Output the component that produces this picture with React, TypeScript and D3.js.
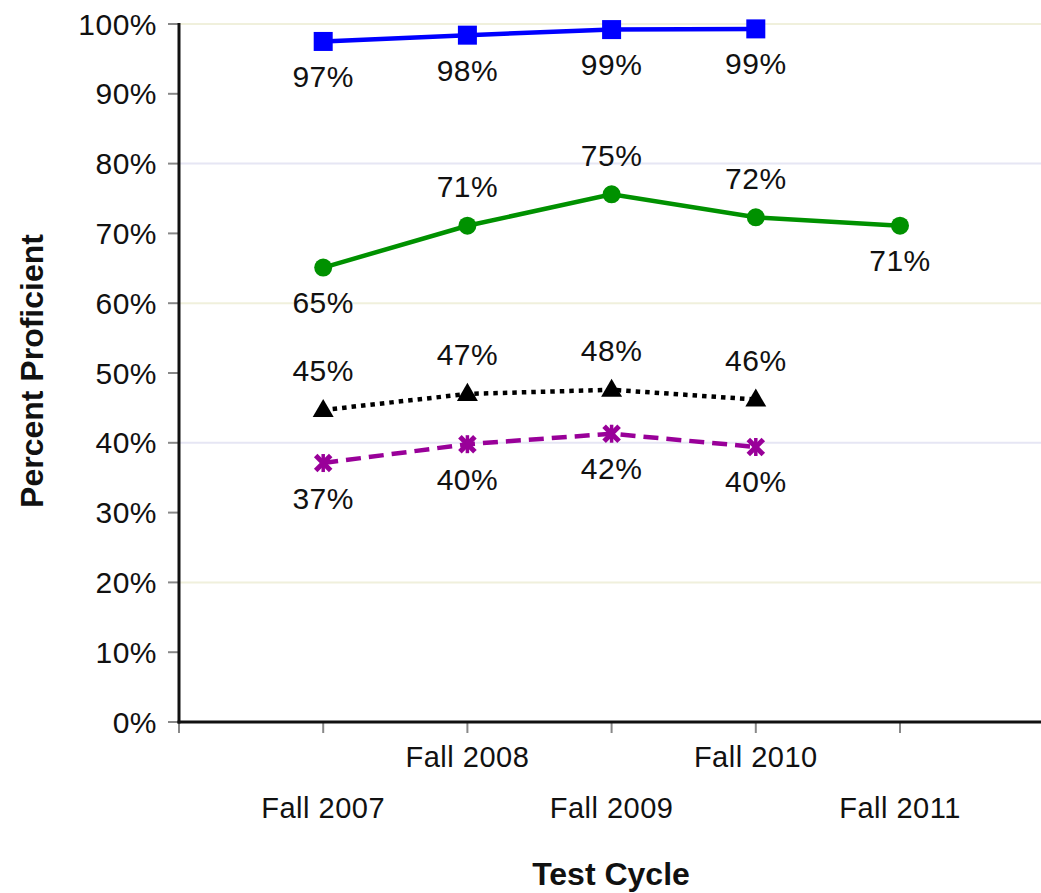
import React from "react";
import * as d3 from "d3";

const categories = ["Fall 2007", "Fall 2008", "Fall 2009", "Fall 2010", "Fall 2011"];
const yTicks = [0, 10, 20, 30, 40, 50, 60, 70, 80, 90, 100];

const blueValues = [97.5, 98.4, 99.2, 99.3, null];
const blueLabels = ["97%", "98%", "99%", "99%", ""];
const greenValues = [65.1, 71.1, 75.6, 72.3, 71.1];
const greenLabels = ["65%", "71%", "75%", "72%", "71%"];
const blackValues = [44.7, 47.0, 47.6, 46.2, null];
const blackLabels = ["45%", "47%", "48%", "46%", ""];
const purpleValues = [37.1, 39.8, 41.3, 39.4, null];
const purpleLabels = ["37%", "40%", "42%", "40%", ""];

const W = 1041;
const H = 893;
const left = 179;
const top = 24;
const bottom = 722;

const x = d3.scaleLinear().domain([0, 6]).range([left, left + 6 * 144.2]);
const y = d3.scaleLinear().domain([0, 100]).range([bottom, top]);

type Series = {
  values: (number | null)[];
  labels: string[];
  pos: ("above" | "below")[];
  color: string;
  dash?: string;
  width: number;
  marker: "square" | "circle" | "triangle" | "x";
};

const series: Series[] = [
  { values: blueValues, labels: blueLabels, pos: ["below", "below", "below", "below", "below"], color: "#0000ff", width: 4.5, marker: "square" },
  { values: greenValues, labels: greenLabels, pos: ["below", "above", "above", "above", "below"], color: "#009100", width: 4.5, marker: "circle" },
  { values: blackValues, labels: blackLabels, pos: ["above", "above", "above", "above", "above"], color: "#000000", dash: "4.5 5", width: 4.5, marker: "triangle" },
  { values: purpleValues, labels: purpleLabels, pos: ["below", "below", "below", "below", "below"], color: "#990099", dash: "15 8", width: 4.5, marker: "x" },
];

const font = "'Liberation Sans', Arial, sans-serif";

function Marker({ kind, cx, cy, color }: { kind: string; cx: number; cy: number; color: string }) {
  if (kind === "square") return <rect x={cx - 9.5} y={cy - 9.5} width={19} height={19} fill={color} />;
  if (kind === "circle") return <circle cx={cx} cy={cy} r={9} fill={color} />;
  if (kind === "triangle") {
    const p = d3.symbol().type(d3.symbolTriangle).size(190)();
    return <path d={p || ""} transform={`translate(${cx},${cy + 1})`} fill={color} />;
  }
  return (
    <g stroke={color} strokeWidth={5} strokeLinecap="butt">
      <line x1={cx - 7.5} y1={cy - 7.5} x2={cx + 7.5} y2={cy + 7.5} />
      <line x1={cx - 7.5} y1={cy + 7.5} x2={cx + 7.5} y2={cy - 7.5} />
      <line x1={cx} y1={cy - 9} x2={cx} y2={cy + 9} strokeWidth={3.5} />
    </g>
  );
}

export default function App() {
  const line = d3
    .line<number | null>()
    .defined((d) => d !== null)
    .x((_, i) => x(i + 1))
    .y((d) => y(d as number));

  const gridColor = (v: number) => (v % 40 === 0 ? "#e6e6f4" : "#f0f0dc");

  return (
    <svg width={W} height={H} style={{ position: "absolute", left: 0, top: 0, background: "#fff" }}>
      {[20, 40, 60, 80, 100].map((v) => (
        <line key={v} x1={left} x2={W} y1={y(v)} y2={y(v)} stroke={gridColor(v)} strokeWidth={2} />
      ))}
      {yTicks.map((v) => (
        <g key={v}>
          <line x1={left - 11} x2={left} y1={y(v)} y2={y(v)} stroke="#888" strokeWidth={2} />
          <text
            x={left - 22}
            y={y(v)}
            textAnchor="end"
            dominantBaseline="central"
            fontFamily={font}
            fontSize={30}
            letterSpacing={0.5}
            fill="#111"
          >
            {`${v}%`}
          </text>
        </g>
      ))}
      {d3.range(0, 7).map((i) => (
        <line key={i} x1={x(i)} x2={x(i)} y1={bottom} y2={bottom + 11} stroke="#888" strokeWidth={2} />
      ))}
      {categories.map((c, i) => (
        <text
          key={c}
          x={x(i + 1)}
          y={i % 2 === 0 ? 808 : 757}
          textAnchor="middle"
          dominantBaseline="central"
          fontFamily={font}
          fontSize={29}
          letterSpacing={0.5}
          fill="#111"
        >
          {c}
        </text>
      ))}
      <line x1={left} x2={left} y1={top - 1} y2={bottom + 1.5} stroke="#111" strokeWidth={3} />
      <line x1={left - 1.5} x2={W} y1={bottom} y2={bottom} stroke="#111" strokeWidth={3} />
      <text
        x={611}
        y={874}
        textAnchor="middle"
        dominantBaseline="central"
        fontFamily={font}
        fontSize={32}
        fontWeight="bold"
        fill="#111"
      >
        Test Cycle
      </text>
      <text
        transform={`translate(32,371) rotate(-90)`}
        textAnchor="middle"
        dominantBaseline="central"
        fontFamily={font}
        fontSize={32}
        fontWeight="bold"
        fill="#111"
      >
        Percent Proficient
      </text>
      {series.map((s, si) => (
        <g key={si}>
          <path d={line(s.values) || ""} fill="none" stroke={s.color} strokeWidth={s.width} strokeDasharray={s.dash} />
          {s.values.map((v, i) =>
            v === null ? null : <Marker key={i} kind={s.marker} cx={x(i + 1)} cy={y(v)} color={s.color} />
          )}
          {s.values.map((v, i) =>
            v === null ? null : (
              <text
                key={"l" + i}
                x={x(i + 1)}
                y={y(v) + (s.pos[i] === "above" ? -39 : 35)}
                textAnchor="middle"
                dominantBaseline="central"
                fontFamily={font}
                fontSize={30}
                letterSpacing={0.5}
                fill="#111"
              >
                {s.labels[i]}
              </text>
            )
          )}
        </g>
      ))}
    </svg>
  );
}
